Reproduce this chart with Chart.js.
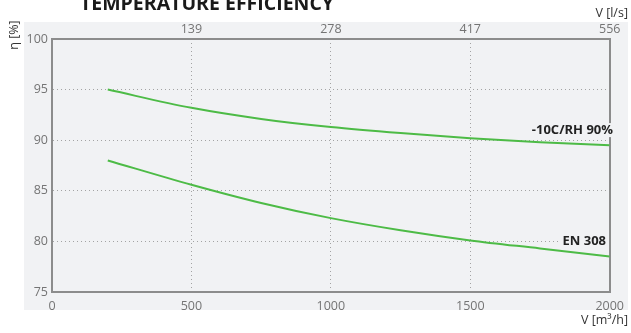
<!DOCTYPE html>
<html>
<head>
<meta charset="utf-8">
<script src="https://cdn.jsdelivr.net/npm/chart.js@4"></script>
<style>
  html, body { margin: 0; padding: 0; background: #ffffff; }
  #wrap { position: relative; width: 631px; height: 333px; }
</style>
</head>
<body>
<div id="wrap"><canvas id="c" width="631" height="333"></canvas></div>
<script>
// Airflow in m³/h and temperature efficiency in %
const flowM3h = [200, 500, 750, 1000, 1250, 1500, 1750, 2000];
const effCold = [95.0, 93.2, 92.1, 91.3, 90.7, 90.2, 89.8, 89.5];   // -10C/RH 90%
const effEN308 = [88.0, 85.6, 83.8, 82.3, 81.1, 80.1, 79.3, 78.5];  // EN 308
const seriesNames = ['-10C/RH 90%', 'EN 308'];

// Axis ticks; the top axis shows the same flows expressed in l/s
const flowTicksM3h = [0, 500, 1000, 1500, 2000];
const topTicksM3h = [500, 1000, 1500, 2000];
const topTicksLs = ['139', '278', '417', '556'];
const effTicks = [75, 80, 85, 90, 95, 100];

const FONT = "'Open Sans', 'Noto Sans', sans-serif";
const GREEN = '#4dbb46';
const BG = '#f1f2f4';
const GRID = '#a3a3a3';
const AXIS = '#8c8c8c';
const TICK = '#747474';

const toPoints = (xs, ys) => xs.map((x, i) => ({ x: x, y: ys[i] }));

// dotted grid only for the inner ticks; the outer ones coincide with the frame
const innerGrid = (lo, hi) => ctx => {
  const v = ctx.tick ? ctx.tick.value : null;
  return (v === lo || v === hi) ? 'rgba(0,0,0,0)' : GRID;
};

// Panel, titles and end-of-curve labels
const decor = {
  id: 'decor',
  beforeDraw(chart) {
    const ctx = chart.ctx;
    ctx.save();
    ctx.fillStyle = BG;
    ctx.fillRect(24, 22, 604, 288);
    ctx.restore();
  },
  afterDraw(chart) {
    const ctx = chart.ctx;
    ctx.save();
    // heading
    ctx.fillStyle = '#1a1a1a';
    ctx.font = "bold 19.5px " + FONT;
    ctx.textAlign = 'left';
    ctx.textBaseline = 'alphabetic';
    ctx.fillText('TEMPERATURE EFFICIENCY', 80, 10);

    // axis titles
    ctx.fillStyle = '#333333';
    ctx.font = "12.5px " + FONT;
    ctx.textAlign = 'right';
    ctx.textBaseline = 'middle';
    ctx.fillText('V [l/s]', 628, 13);
    ctx.fillText('V [m³/h]', 628, 320);

    ctx.save();
    ctx.translate(14, 35);
    ctx.rotate(-Math.PI / 2);
    ctx.textAlign = 'center';
    ctx.fillText('η [%]', 0, 0);
    ctx.restore();

    // series labels near the right end of each curve
    const ys = chart.scales.y;
    const labelAt = [ { text: seriesNames[0], y: 91.0, right: 613 },
                      { text: seriesNames[1], y: 80.0, right: 606 } ];
    ctx.font = "bold 13px " + FONT;
    ctx.textAlign = 'right';
    ctx.textBaseline = 'middle';
    labelAt.forEach(l => {
      const py = ys.getPixelForValue(l.y);
      const w = ctx.measureText(l.text).width;
      ctx.fillStyle = BG;
      ctx.fillRect(l.right - w - 2, py - 7, w + 4, 14);
      ctx.fillStyle = '#222222';
      ctx.fillText(l.text, l.right, py);
    });
    ctx.restore();
  }
};

const tickFont = { family: FONT, size: 12.5 };

new Chart(document.getElementById('c'), {
  type: 'line',
  data: {
    datasets: [
      { label: seriesNames[0], data: toPoints(flowM3h, effCold), borderColor: GREEN,
        borderWidth: 2, pointRadius: 0, cubicInterpolationMode: 'monotone', fill: false },
      { label: seriesNames[1], data: toPoints(flowM3h, effEN308), borderColor: GREEN,
        borderWidth: 2, pointRadius: 0, cubicInterpolationMode: 'monotone', fill: false }
    ]
  },
  options: {
    responsive: false,
    animation: false,
    events: [],
    layout: { padding: { left: 0, right: 15, top: 0, bottom: 0 } },
    plugins: { legend: { display: false }, tooltip: { enabled: false }, title: { display: false } },
    scales: {
      x: {
        type: 'linear', position: 'bottom', min: 0, max: 2000,
        afterBuildTicks: s => { s.ticks = flowTicksM3h.map(v => ({ value: v })); },
        afterFit: s => { s.height = 41; },
        ticks: { color: TICK, font: tickFont, padding: 7, maxRotation: 0, callback: v => String(v) },
        grid: { color: innerGrid(0, 2000), lineWidth: 1, drawTicks: false },
        border: { display: true, color: AXIS, width: 2, dash: [1, 3] }
      },
      x2: {
        type: 'linear', position: 'top', min: 0, max: 2000,
        afterBuildTicks: s => { s.ticks = topTicksM3h.map(v => ({ value: v })); },
        afterFit: s => { s.height = 39; },
        ticks: {
          color: TICK, font: tickFont, padding: 2, maxRotation: 0,
          callback: v => topTicksLs[topTicksM3h.indexOf(v)]
        },
        grid: { display: false, drawTicks: false },
        border: { display: true, color: AXIS, width: 2 }
      },
      y: {
        type: 'linear', min: 75, max: 100,
        afterBuildTicks: s => { s.ticks = effTicks.map(v => ({ value: v })); },
        afterFit: s => { s.width = 52; },
        ticks: { color: TICK, font: tickFont, padding: 4 },
        grid: { color: innerGrid(75, 100), lineWidth: 1, drawTicks: false },
        border: { display: true, color: AXIS, width: 2, dash: [1, 3] }
      },
      y2: {
        type: 'linear', position: 'right', min: 75, max: 100,
        afterFit: s => { s.width = 0; },
        ticks: { display: false },
        grid: { display: false, drawTicks: false },
        border: { display: true, color: AXIS, width: 2 }
      }
    }
  },
  plugins: [decor]
});
</script>
</body>
</html>
